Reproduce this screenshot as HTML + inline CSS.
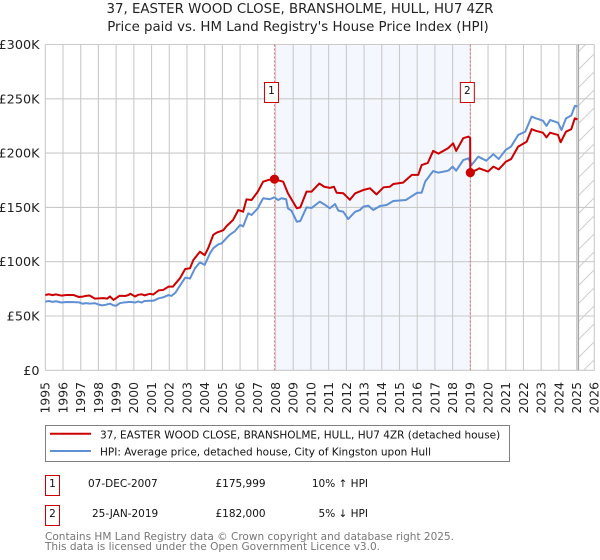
<!DOCTYPE html>
<html lang="en">
<head>
<meta charset="utf-8">
<title>37, Easter Wood Close price chart</title>
<style>
html,body{margin:0;padding:0;background:#fff;}
svg{display:block;font-family:"DejaVu Sans",sans-serif;}
</style>
</head>
<body>
<svg id="chart" xmlns="http://www.w3.org/2000/svg" width="600" height="560" viewBox="0 0 600 560">
<defs>
<pattern id="hatch" patternUnits="userSpaceOnUse" width="18" height="18">
<path d="M-2 20 L20 -2 M-2 2 L2 -2 M16 20 L20 16" stroke="#cfcfcf" stroke-width="1" fill="none"/>
</pattern>
</defs>
<g id="plot-bg"></g>
<g id="grid"></g>
<g id="series"></g>
<g id="axes"></g>
<text x="300" y="13" text-anchor="middle" font-size="13.35" fill="#222">37, EASTER WOOD CLOSE, BRANSHOLME, HULL, HU7 4ZR</text>
<text x="298" y="31" text-anchor="middle" font-size="13.35" fill="#222">Price paid vs. HM Land Registry's House Price Index (HPI)</text>

<g>
<rect x="45.5" y="425.5" width="464" height="36" fill="#fff" stroke="#808080" stroke-width="1"/>
<line x1="50" y1="433.8" x2="91" y2="433.8" stroke="#cc0000" stroke-width="2"/>
<text x="100" y="438.5" font-size="10.5" fill="#111">37, EASTER WOOD CLOSE, BRANSHOLME, HULL, HU7 4ZR (detached house)</text>
<line x1="50" y1="451" x2="91" y2="451" stroke="#6090d4" stroke-width="2"/>
<text x="100" y="455.5" font-size="10.5" fill="#111">HPI: Average price, detached house, City of Kingston upon Hull</text>
</g>

<g>
<rect x="45.5" y="475.5" width="14" height="20" fill="#fff" stroke="#cc0000" stroke-width="1"/>
<text x="52.5" y="487" text-anchor="middle" font-size="10.5" fill="#111">1</text>
<text x="88" y="487" font-size="10.5" fill="#111">07-DEC-2007</text>
<text x="215.5" y="487" font-size="10.5" fill="#111">£175,999</text>
<text x="368" y="487" text-anchor="end" font-size="10.5" fill="#111">10% ↑ HPI</text>
</g>
<g>
<rect x="45.5" y="505.5" width="14" height="20" fill="#fff" stroke="#cc0000" stroke-width="1"/>
<text x="52.5" y="517" text-anchor="middle" font-size="10.5" fill="#111">2</text>
<text x="92" y="517" font-size="10.5" fill="#111">25-JAN-2019</text>
<text x="215.5" y="517" font-size="10.5" fill="#111">£182,000</text>
<text x="368" y="517" text-anchor="end" font-size="10.5" fill="#111">5% ↓ HPI</text>
</g>

<text x="45" y="540" font-size="10.53" fill="#777">Contains HM Land Registry data © Crown copyright and database right 2025.</text>
<text x="45" y="550" font-size="10.53" fill="#777">This data is licensed under the Open Government Licence v3.0.</text>
</svg>
<script>
const xTickYears = [1995,1996,1997,1998,1999,2000,2001,2002,2003,2004,2005,2006,2007,2008,2009,2010,2011,2012,2013,2014,2015,2016,2017,2018,2019,2020,2021,2022,2023,2024,2025,2026];
const yTickValues = [0,50,100,150,200,250,300];
const yTickLabels = ['£0','£50K','£100K','£150K','£200K','£250K','£300K'];

const hpiYears = [1995,1995.2,1995.4,1995.6,1995.9,1996.2,1996.6,1996.9,1997.1,1997.3,1997.5,1997.8,1998,1998.2,1998.4,1998.65,1998.85,1999,1999.2,1999.5,1999.8,2000.07,2000.25,2000.44,2000.6,2000.9,2001.1,2001.4,2001.66,2001.95,2002.13,2002.35,2002.6,2002.9,2003.17,2003.45,2003.73,2004,2004.3,2004.48,2004.77,2004.96,2005.4,2005.7,2006,2006.17,2006.46,2006.65,2007,2007.3,2007.68,2007.93,2008.15,2008.34,2008.6,2008.7,2008.9,2009.2,2009.4,2009.75,2010.04,2010.5,2010.75,2011.07,2011.36,2011.55,2011.83,2012.1,2012.5,2012.77,2012.95,2013.24,2013.52,2013.9,2014.27,2014.65,2015.36,2016,2016.25,2016.45,2016.9,2017.2,2017.75,2018,2018.2,2018.6,2018.9,2019.07,2019.45,2019.9,2020.3,2020.6,2021,2021.3,2021.7,2022.1,2022.46,2022.7,2023.1,2023.3,2023.5,2023.95,2024.15,2024.4,2024.7,2024.9,2025.05];
const hpiValues = [63.2,63.8,63,63.6,62.4,62.9,62.8,62.6,61.3,61.9,61.4,61.8,60.6,59.8,60.3,61.4,59.8,59.4,61.8,62.6,63,62.4,63.4,62.4,63.8,64,64,66.3,67.2,69.3,68.5,71.5,77.9,85.3,84.5,93.9,99.4,97.1,107.7,112.3,116,116.9,124.6,128,133.8,132.5,144.6,143,149.2,158.4,157.5,159.3,156.8,158.4,157.5,149.2,147,136.8,137.5,150,149.5,155.3,152.8,149.2,153.1,147,146,139.3,146,147.6,150.6,151.6,147.6,151.3,152.2,155.9,156.8,163.5,163.5,173.7,183.5,182,183.8,187.5,183.8,193.6,195.2,189,196.7,193,199,194.5,203,206,216.7,219.7,233.6,232,229.8,225,230.5,228,221.2,232,234.6,243.4,243];

const priceYears = [1995,1995.2,1995.4,1995.6,1995.9,1996.2,1996.6,1996.9,1997.1,1997.3,1997.5,1997.8,1998,1998.3,1998.5,1998.65,1998.85,1999.2,1999.5,1999.7,1999.8,2000.07,2000.25,2000.44,2000.6,2000.9,2001.1,2001.4,2001.66,2001.95,2002.2,2002.6,2002.9,2003.17,2003.36,2003.73,2004,2004.2,2004.48,2004.67,2005.05,2005.24,2005.6,2005.9,2006.17,2006.36,2006.65,2007,2007.3,2007.6,2007.93,2008.43,2008.7,2009.2,2009.4,2009.75,2010.03,2010.47,2010.75,2011.07,2011.3,2011.45,2011.83,2012.2,2012.5,2012.95,2013.33,2013.7,2014.1,2014.45,2014.65,2015.2,2015.7,2016.06,2016.25,2016.6,2016.9,2017.2,2017.75,2018.03,2018.2,2018.6,2018.9,2018.99,2019,2019.36,2019.5,2020,2020.3,2020.6,2021,2021.3,2021.7,2022.18,2022.46,2022.7,2023.1,2023.3,2023.5,2023.95,2024.1,2024.4,2024.7,2024.9,2025.05];
const priceValues = [69.3,70,69.2,69.9,68.8,69.3,69.3,67.5,67.8,68.5,68.9,66,66.2,66.5,66,68,64.8,68.7,68.4,69.3,70.5,68,69.5,70,69,70.4,69.8,73.6,74,77,77,84.7,93.3,94,101.6,109.2,106,112.5,124.6,126.7,129,132.9,138.4,147.6,146,157.4,156.8,164.5,173.7,175.3,175.9,173.7,163,149.2,150,164.5,164.5,172,169,168,169,163.5,163,157,163,166,167.6,162,168.5,169,171.5,172.8,180,180,189,191,202,199.5,204.6,209,202,213.7,215.2,214,182,184.6,186,183,187.5,185,192,194.5,206,210.5,222,220.5,218.8,214.5,218.8,216.7,210,219.7,222,232,231];

const saleYears = [2007.94,2019.0];
const salePrices = [175.999,182];
const saleLabels = ['1','2'];
const dataEndYear = 2025.1;

const SVGNS = 'http://www.w3.org/2000/svg';
const x = year => 45.3 + (year - 1995) * (549 / 31);
const y = value => 370.3 - value * (325.8 / 300);

function el(parent, tag, attrs, text) {
  const node = document.createElementNS(SVGNS, tag);
  for (const key in attrs) node.setAttribute(key, attrs[key]);
  if (text !== undefined) node.textContent = text;
  parent.appendChild(node);
  return node;
}
const bg = document.getElementById('plot-bg');
const grid = document.getElementById('grid');
const series = document.getElementById('series');
const axes = document.getElementById('axes');

const plotBg = el(bg, 'rect', {x: x(1995), y: y(300), width: x(2026) - x(1995), height: y(0) - y(300), fill: '#fff'});



const band = el(bg, 'rect', {x: x(saleYears[0]), y: y(300), width: x(saleYears[1]) - x(saleYears[0]), height: y(0) - y(300), fill: '#f4f7fe'});



const hatch = el(bg, 'rect', {x: x(dataEndYear), y: y(300), width: x(2026) - x(dataEndYear), height: y(0) - y(300), fill: 'url(#hatch)'});



xTickYears.forEach(year => {
  const line = el(grid, 'line', {x1: x(year), x2: x(year), y1: y(300), y2: y(0), stroke: '#cacaca', 'stroke-width': 1.1});
  
  
  const px = x(year) + 4.4;
  const label = el(axes, 'text', {x: px, y: 382, transform: 'rotate(-90 ' + px + ' 382)', 'text-anchor': 'end', 'font-size': 12.4, fill: '#222'}, String(year));
  
  
});
yTickValues.forEach((value, i) => {
  const line = el(grid, 'line', {x1: x(1995), x2: x(2026), y1: y(value), y2: y(value), stroke: '#cacaca', 'stroke-width': 1.1});
  
  
  const label = el(axes, 'text', {x: 39.5, y: y(value) + 4.5, 'text-anchor': 'end', 'font-size': 12.8, fill: '#222'}, yTickLabels[i]);
  
  
});

const endLine = el(grid, 'line', {x1: x(dataEndYear), x2: x(dataEndYear), y1: y(300), y2: y(0), stroke: '#a8a8a8', 'stroke-width': 1.5});



saleYears.forEach((year, i) => {
  const line = el(series, 'line', {x1: x(year), x2: x(year), y1: y(300), y2: y(0), stroke: '#f06a6a', 'stroke-width': 1, 'stroke-dasharray': '2 2'});
  
  
});

function pts(xs, ys) { return xs.map((v, i) => x(v).toFixed(2) + ',' + y(ys[i]).toFixed(2)).join(' '); }

const hpiLine = el(series, 'polyline', {points: pts(hpiYears, hpiValues), fill: 'none', stroke: '#6090d4', 'stroke-width': 2, 'stroke-linejoin': 'round'});



const priceLine = el(series, 'polyline', {points: pts(priceYears, priceValues), fill: 'none', stroke: '#cc0000', 'stroke-width': 2, 'stroke-linejoin': 'round'});



saleYears.forEach((year, i) => {
  const dot = el(series, 'circle', {cx: x(year), cy: y(salePrices[i]), r: 4.6, fill: '#cc0000'});
  
  
  const box = el(series, 'rect', {x: x(year) - 10, y: 82.5, width: 14, height: 20, fill: '#fff', stroke: '#cc0000', 'stroke-width': 1});
  
  
  const num = el(series, 'text', {x: x(year) - 3, y: 94, 'text-anchor': 'middle', 'font-size': 10.5, fill: '#111'}, saleLabels[i]);
  
  
});
</script>
</body>
</html>
